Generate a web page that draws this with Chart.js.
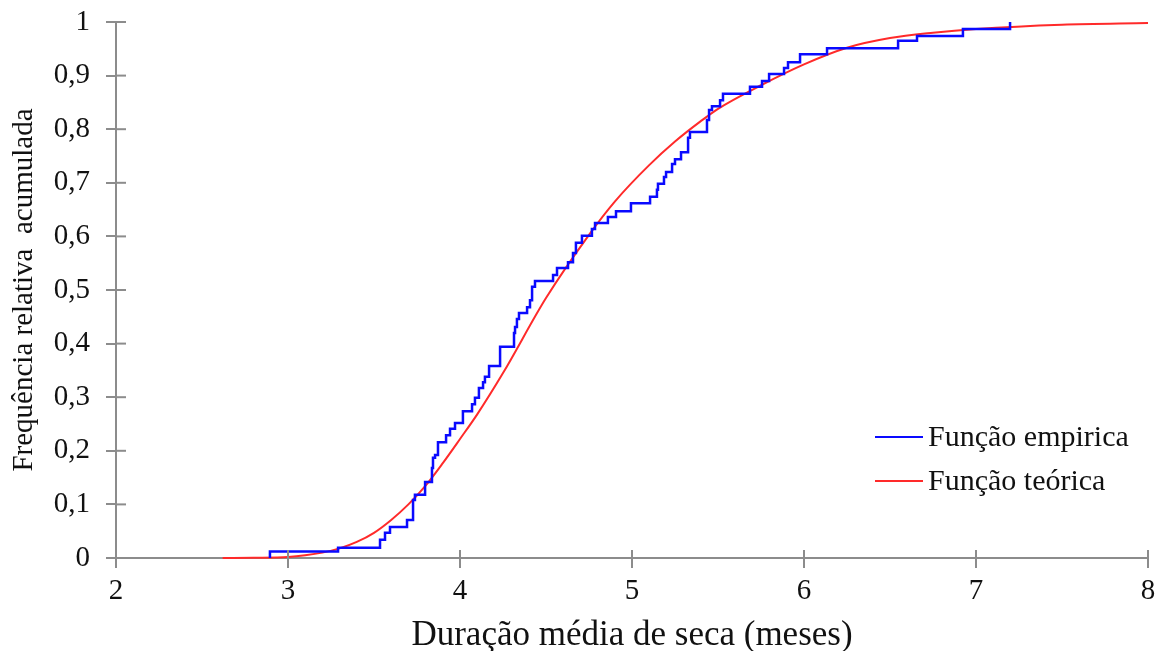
<!DOCTYPE html>
<html>
<head>
<meta charset="utf-8">
<script src="https://cdn.jsdelivr.net/npm/chart.js@4/dist/chart.umd.min.js"></script>
<style>
  html, body { margin: 0; padding: 0; background: #fff; }
  #wrap { width: 1162px; height: 651px; }
</style>
</head>
<body>
<div id="wrap"><canvas id="cdfChart"></canvas></div>
<script>
// Empirical CDF (step points: x where the jump happens, F after the jump)
const empX = [2.895, 2.895, 3.291, 3.535, 3.564, 3.593, 3.692, 3.727, 3.738, 3.797, 3.837, 3.843, 3.855, 3.872,
  3.919, 3.942, 3.971, 4.017, 4.070, 4.087, 4.110, 4.134, 4.145, 4.169, 4.233, 4.314, 4.320, 4.331, 4.343,
  4.390, 4.407, 4.419, 4.436, 4.541, 4.564, 4.628, 4.657, 4.674, 4.709, 4.767, 4.785, 4.860, 4.907, 4.994,
  5.105, 5.145, 5.151, 5.186, 5.198, 5.233, 5.250, 5.285, 5.326, 5.337, 5.436, 5.448, 5.465, 5.512, 5.529,
  5.686, 5.756, 5.797, 5.884, 5.907, 5.977, 6.134, 6.547, 6.657, 6.924, 7.198, 7.198];
const empY = [0, 0.012, 0.019, 0.034, 0.047, 0.058, 0.071, 0.108, 0.118, 0.142, 0.168, 0.187, 0.192, 0.216,
  0.229, 0.241, 0.252, 0.274, 0.287, 0.299, 0.317, 0.328, 0.338, 0.358, 0.394, 0.420, 0.431, 0.446, 0.457,
  0.468, 0.481, 0.506, 0.517, 0.528, 0.541, 0.552, 0.569, 0.588, 0.601, 0.614, 0.625, 0.636, 0.647, 0.662,
  0.674, 0.687, 0.698, 0.711, 0.720, 0.735, 0.744, 0.757, 0.784, 0.795, 0.817, 0.836, 0.843, 0.854, 0.866,
  0.879, 0.890, 0.903, 0.914, 0.925, 0.940, 0.951, 0.965, 0.974, 0.987, 0.995, 1.0];

// Theoretical CDF
const teoX = [2.62, 2.8, 3.0, 3.1, 3.2, 3.3, 3.4, 3.5, 3.6, 3.7, 3.8, 3.9, 4.0, 4.1, 4.25, 4.5, 4.75,
  4.9, 5.1, 5.25, 5.4, 5.5, 5.75, 6.0, 6.25, 6.5, 6.75, 7.0, 7.5, 8.0];
const teoY = [0, 0.0005, 0.002, 0.005, 0.01, 0.018, 0.03, 0.047, 0.071, 0.1, 0.135, 0.177, 0.222, 0.268,
  0.345, 0.485, 0.603, 0.665, 0.733, 0.777, 0.815, 0.838, 0.882, 0.921, 0.952, 0.97, 0.98, 0.987, 0.995, 0.998];

const seriesLabels = ['Função empirica', 'Função teórica'];
const seriesColors = ['#0a0aff', '#ff2a2a'];

const axisColor = '#8c8c8c';
const serif = 'Liberation Serif, Times New Roman, serif';

function toPoints(xs, ys) {
  return xs.map((x, i) => ({ x: x, y: ys[i] }));
}

// short tick marks on the inner side of each axis (the reference ticks cross the axis)
const innerTicks = {
  id: 'innerTicks',
  afterDraw(chart) {
    const { ctx, chartArea, scales } = chart;
    ctx.save();
    ctx.strokeStyle = axisColor;
    ctx.lineWidth = 2;
    scales.x.ticks.forEach(t => {
      const px = scales.x.getPixelForValue(t.value);
      ctx.beginPath();
      ctx.moveTo(px, chartArea.bottom);
      ctx.lineTo(px, chartArea.bottom - 8);
      ctx.stroke();
    });
    scales.y.ticks.forEach(t => {
      const py = scales.y.getPixelForValue(t.value);
      ctx.beginPath();
      ctx.moveTo(chartArea.left, py);
      ctx.lineTo(chartArea.left + 10, py);
      ctx.stroke();
    });
    ctx.restore();
  }
};

// legend drawn inside the plot, lower right
const insideLegend = {
  id: 'insideLegend',
  afterDraw(chart) {
    const { ctx, chartArea } = chart;
    const x0 = chartArea.right - 273;
    let y = chartArea.top + 415;
    ctx.save();
    ctx.font = '30px ' + serif;
    ctx.textBaseline = 'middle';
    chart.data.datasets.forEach(ds => {
      ctx.strokeStyle = ds.borderColor;
      ctx.lineWidth = 2;
      ctx.beginPath();
      ctx.moveTo(x0, y);
      ctx.lineTo(x0 + 48, y);
      ctx.stroke();
      ctx.fillStyle = '#111';
      ctx.fillText(ds.label, x0 + 53, y + 1);
      y += 44;
    });
    ctx.restore();
  }
};

function renderChart() {
  const ctx = document.getElementById('cdfChart').getContext('2d');

  new Chart(ctx, {
    type: 'line',
    data: {
      datasets: [
        {
          label: seriesLabels[0],
          data: toPoints(empX, empY),
          borderColor: seriesColors[0],
          borderWidth: 2.5,
          stepped: true,
          pointRadius: 0,
          fill: false
        },
        {
          label: seriesLabels[1],
          data: toPoints(teoX, teoY),
          borderColor: seriesColors[1],
          borderWidth: 2,
          cubicInterpolationMode: 'monotone',
          pointRadius: 0,
          fill: false
        }
      ]
    },
    options: {
      responsive: true,
      maintainAspectRatio: false,
      animation: false,
      clip: false,
      layout: {
        padding: { top: 22, right: 14, left: 0, bottom: 0 }
      },
      plugins: {
        legend: { display: false },
        tooltip: { enabled: false }
      },
      scales: {
        x: {
          type: 'linear',
          min: 2,
          max: 8,
          ticks: {
            stepSize: 1,
            color: '#111',
            padding: 6,
            font: { family: serif, size: 29 }
          },
          grid: {
            drawOnChartArea: false,
            drawTicks: true,
            tickLength: 10,
            color: axisColor,
            lineWidth: 2
          },
          border: { color: axisColor, width: 2 },
          title: {
            display: true,
            text: 'Duração média de seca (meses)',
            color: '#111',
            padding: { top: -5, bottom: -6 },
            font: { family: serif, size: 35 }
          },
          afterFit: s => { s.height = 93; }
        },
        y: {
          min: 0,
          max: 1,
          ticks: {
            stepSize: 0.1,
            color: '#111',
            padding: 16,
            font: { family: serif, size: 29 },
            callback: v => String(Math.round(v * 10) / 10).replace('.', ',')
          },
          grid: {
            drawOnChartArea: false,
            drawTicks: true,
            tickLength: 10,
            color: axisColor,
            lineWidth: 2
          },
          border: { color: axisColor, width: 2 },
          title: {
            display: true,
            text: 'Frequência relativa  acumulada',
            color: '#111',
            padding: { top: 7, bottom: 0 },
            font: { family: serif, size: 29 }
          },
          afterFit: s => {
            s.width = 116;
            s.paddingTop = 10;
            s.paddingBottom = 10;
          }
        }
      }
    },
    plugins: [innerTicks, insideLegend]
  });
}

renderChart();
</script>
</body>
</html>
